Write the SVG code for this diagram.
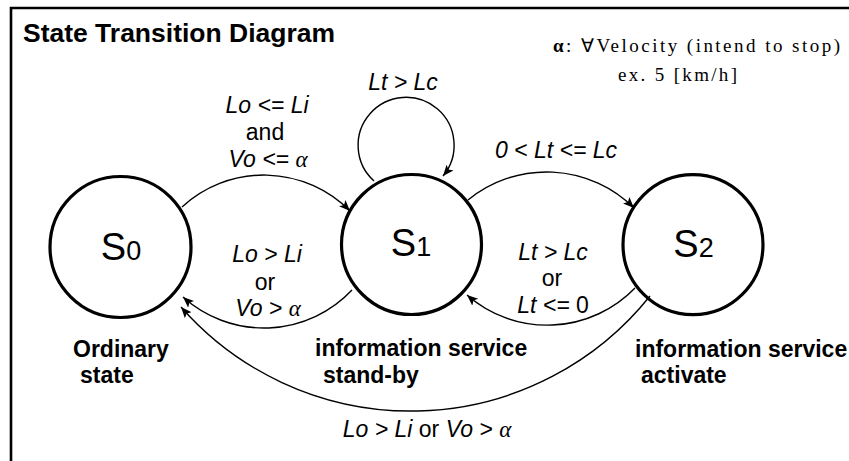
<svg xmlns="http://www.w3.org/2000/svg" width="849" height="461" viewBox="0 0 849 461">
<defs>
<marker id="ah" markerWidth="12" markerHeight="10" refX="11" refY="5" orient="auto" markerUnits="userSpaceOnUse"><path d="M0,0.5 L11,5 L0,9.5 L2.5,5 z" fill="#000"/></marker>
</defs>
<style>
.node{fill:none;stroke:#000;stroke-width:3.2}
.edge{fill:none;stroke:#000;stroke-width:1.4;marker-end:url(#ah)}
.lbl{font-family:"Liberation Sans",Arial,sans-serif;font-size:23px;font-style:italic;text-anchor:middle;fill:#000}
.up{font-style:normal}
.al{font-family:"Liberation Serif","Times New Roman",serif;font-style:italic}
.bold{font-family:"Liberation Sans",Arial,sans-serif;font-size:23px;font-weight:bold;fill:#000}
.st{font-family:"Liberation Sans",Arial,sans-serif;font-size:38px;text-anchor:middle;fill:#000}
.sub{font-size:27px}
.note{font-family:"Liberation Serif","Times New Roman",serif;font-size:19px;fill:#000}
</style>
<rect width="849" height="461" fill="#fff"/>
<path d="M11,461 V8 H849" fill="none" stroke="#000" stroke-width="2.6"/>
<text x="23" y="42" font-family="Liberation Sans, Arial, sans-serif" font-size="26" font-weight="bold" textLength="312" lengthAdjust="spacingAndGlyphs">State Transition Diagram</text>
<g id="note">
<text class="note" x="553" y="52" textLength="287" lengthAdjust="spacing"><tspan font-weight="bold">α</tspan>: ∀Velocity (intend to stop)</text>
<text class="note" x="618" y="81" textLength="119" lengthAdjust="spacing">ex. 5 [km/h]</text>
</g>
<g id="connectors">
<path class="edge" d="M182,207 A121,121 0 0 1 350,211"/>
<path class="edge" d="M468,200 A124,124 0 0 1 634,208"/>
<path class="edge" d="M352,290 A121,121 0 0 1 183,297"/>
<path class="edge" d="M635,288 A122,122 0 0 1 467,295"/>
<path class="edge" d="M650,296 A306,306 0 0 1 181,307"/>
<path class="edge" d="M374,181 A48,48 0 1 1 443,176"/>
<text class="lbl" x="267" y="113">Lo &lt;= Li</text>
<text class="lbl up" x="265" y="140">and</text>
<text class="lbl" x="268" y="167">Vo &lt;= <tspan class="al">α</tspan></text>
<text class="lbl" x="267" y="262">Lo &gt; Li</text>
<text class="lbl up" x="265" y="290">or</text>
<text class="lbl" x="268" y="316">Vo &gt; <tspan class="al">α</tspan></text>
<text class="lbl" x="403" y="90">Lt &gt; Lc</text>
<text class="lbl" x="556" y="158">0 &lt; Lt &lt;= Lc</text>
<text class="lbl" x="553" y="260">Lt &gt; Lc</text>
<text class="lbl up" x="552" y="286">or</text>
<text class="lbl" x="553" y="313">Lt &lt;= <tspan class="up">0</tspan></text>
<text class="lbl" x="427" y="437">Lo &gt; Li <tspan class="up">or</tspan> Vo &gt; <tspan class="al">α</tspan></text>
</g>
<g id="S0">
<circle class="node" cx="120.5" cy="247" r="70.5"/>
<text class="st" x="121" y="260">S<tspan class="sub">0</tspan></text>
<text class="bold" x="73" y="357">Ordinary</text>
<text class="bold" x="80" y="383">state</text>
</g>
<g id="S1">
<circle class="node" cx="411.5" cy="244.5" r="70"/>
<text class="st" x="411" y="256">S<tspan class="sub">1</tspan></text>
<text class="bold" x="315" y="356">information service</text>
<text class="bold" x="323" y="383">stand-by</text>
</g>
<g id="S2">
<circle class="node" cx="693" cy="244.7" r="70"/>
<text class="st" x="693.5" y="256.5">S<tspan class="sub">2</tspan></text>
<text class="bold" x="635" y="357">information service</text>
<text class="bold" x="641" y="383">activate</text>
</g>
</svg>
